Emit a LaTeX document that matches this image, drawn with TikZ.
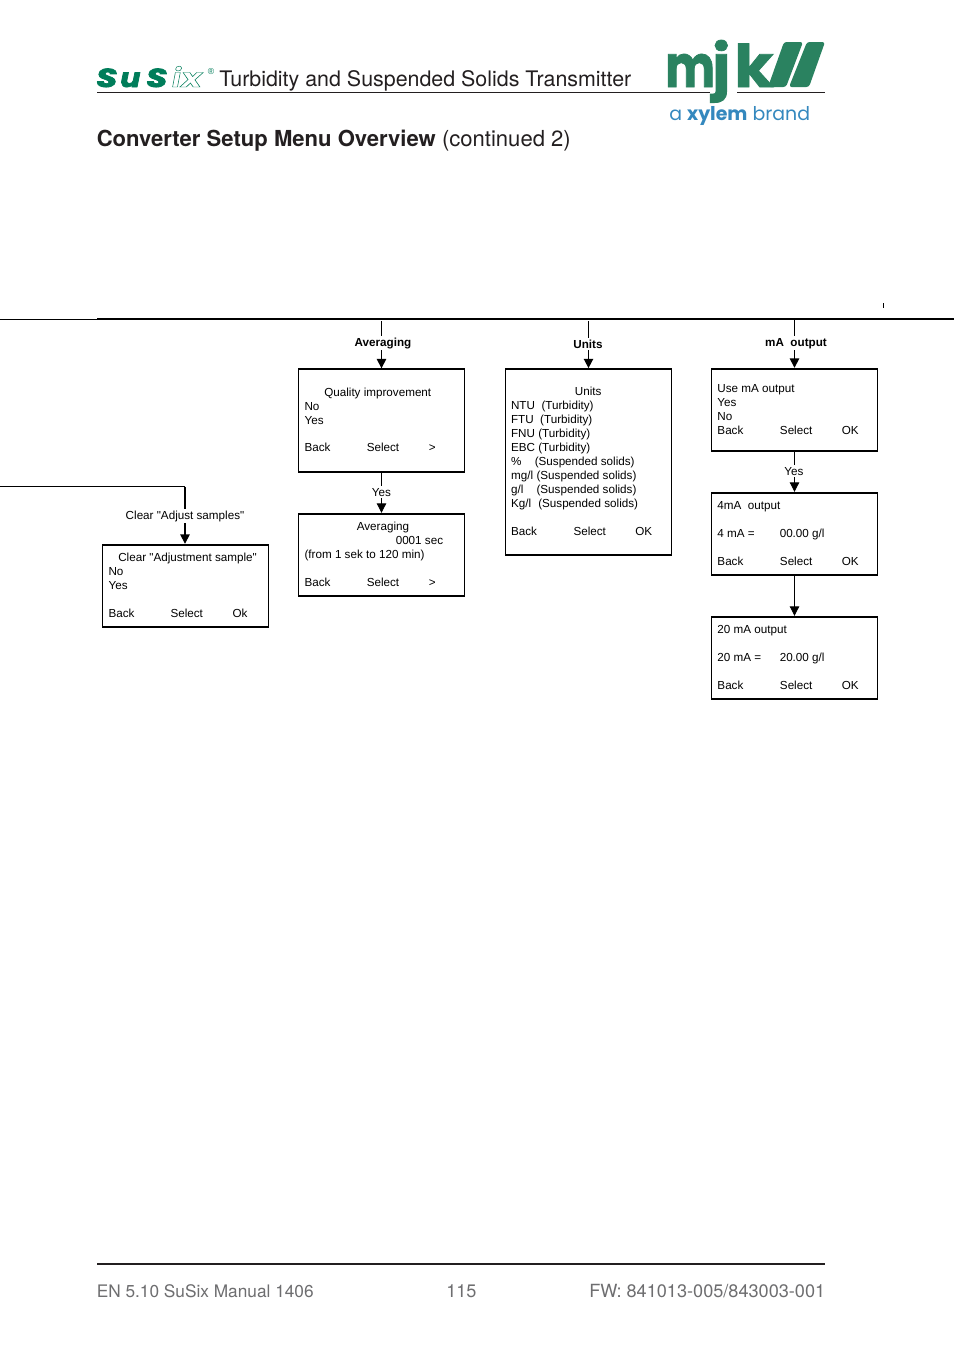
\documentclass[tikz,border=0pt]{standalone}
\usepackage{fontspec}
\setmainfont[Ligatures=TeXOff]{Liberation Sans}
\newfontfamily\headfont{TeX Gyre Heros}
\newfontfamily\brandfont{Poppins}
\usetikzlibrary{arrows.meta,positioning}
\definecolor{mjkgreen}{RGB}{42,130,96}
\definecolor{susixgreen}{RGB}{0,125,90}
\definecolor{xylemblue}{RGB}{52,136,190}
\definecolor{inkgray}{RGB}{35,31,32}
\definecolor{footgray}{RGB}{110,110,112}
\newcommand{\outlinetext}[1]{\special{pdf:code 1 Tr 0.35 w}#1\special{pdf:code 0 Tr}}
\newcommand{\heavytext}[2]{\special{pdf:code 2 Tr #1 w}#2\special{pdf:code 0 Tr}}
\tikzset{
    menubox/.style={draw,line width=1.3pt,minimum width=124.5pt,inner sep=0pt},
    menutext/.style={anchor=base west,inner sep=0pt,font=\fontsize{8.75}{10.5}\selectfont},
    flowlabel/.style={anchor=base,fill=white,inner xsep=1pt,inner ysep=1.5pt,font=\fontsize{8.75}{10.5}\selectfont},
    flowhead/.style={anchor=base,fill=white,inner xsep=1pt,inner ysep=1.5pt,font=\fontsize{8.75}{10.5}\selectfont\bfseries},
    flowline/.style={line width=1.1pt,-{Triangle[length=7pt,width=7pt]}},
    thinflow/.style={line width=0.7pt,-{Triangle[length=7pt,width=7pt]}},
    footer/.style={anchor=base west,inner sep=0pt,text=footgray,font=\headfont\fontsize{13.6}{16}\selectfont},
    logotext/.style={anchor=base west,inner sep=0pt,text=mjkgreen,font=\brandfont\fontsize{44}{44}\selectfont\bfseries},
    susixtext/.style={anchor=base west,inner sep=0pt,text=susixgreen,font=\brandfont\fontsize{19.5}{19.5}\selectfont\bfseries\itshape},
}
\begin{document}
\begin{tikzpicture}[x=0.75pt,y=-0.75pt]
    \useasboundingbox[fill=white] (0,0) rectangle (954,1354);

    % Header
    \node[susixtext] (susixa) at (96,87) {\scalebox{1.3}[1]{\heavytext{0.5}{S}}};
    \node[susixtext] (susixb) at (120,87) {\scalebox{1.15}[1]{\heavytext{0.5}{u}}};
    \node[susixtext] (susixc) at (146,87) {\scalebox{1.3}[1]{\heavytext{0.5}{S}}};
    \node[susixtext] (susixd) at (172,87) {\scalebox{1.1}[1]{\outlinetext{i}}};
    \node[susixtext] (susixe) at (181,87) {\scalebox{1.35}[1]{\outlinetext{x}}};
    \node[anchor=base west,inner sep=0pt,text=susixgreen,font=\fontsize{6.5}{6.5}\selectfont] (susixr) at (207.5,74.5) {®};
    \node[anchor=base west,inner sep=0pt,text=inkgray,font=\headfont\fontsize{16.05}{18}\selectfont] (headline) at (219,86) {Turbidity and Suspended Solids Transmitter};
    \node[anchor=base west,inner sep=0pt,text=inkgray,font=\headfont\fontsize{16.55}{20}\selectfont] (pagetitle) at (96.5,146) {\textbf{Converter Setup Menu Overview} (continued 2)};
    \draw[line width=1.1pt,inkgray] (97,92.5) -- (710,92.5);
    \draw[line width=1.1pt,inkgray] (737,92.5) -- (825,92.5);

    % Logo
    \node[logotext] (logom) at (665,87) {\scalebox{0.8}[1]{\heavytext{0.6}{m}}};
    \node[logotext] (logoj) at (712,87) {\scalebox{1.05}[1]{\heavytext{0.6}{j}}};
    \node[logotext] (logok) at (734,87) {\scalebox{1.08}[1]{\heavytext{0.6}{k}}};
    \fill[mjkgreen,rounded corners=2pt] (784,42) -- (803,42) -- (786,87) -- (768,87) -- cycle;
    \fill[mjkgreen,rounded corners=2pt] (807,42) -- (825,42) -- (809,87) -- (789,87) -- cycle;
    \node[anchor=base west,inner sep=0pt,text=xylemblue,font=\brandfont\fontsize{14.2}{18}\selectfont] (brandline) at (669,120) {a \textbf{xylem} brand};

    % Bus
    \coordinate (busleft) at (0,319);
    \coordinate (busstart) at (97,319);
    \coordinate (busright) at (954,319);
    \draw[line width=0.6pt] (busleft) -- (busstart);
    \draw[line width=1.2pt] (busstart) -- (busright);
    \draw[line width=0.4pt] (883,303) -- (883,308);

    % Boxes
    \node[menubox,minimum height=77pt] (qualitybox) at (381.5,420.5) {};
    \node[menubox,minimum height=62pt] (averagebox) at (381.5,555) {};
    \node[menubox,minimum height=62pt] (clearbox) at (185.5,586) {};
    \node[menubox,minimum height=139.5pt] (unitsbox) at (588.5,462) {};
    \node[menubox,minimum height=62pt] (usemabox) at (794.5,410) {};
    \node[menubox,minimum height=62pt] (fourmabox) at (794.5,534) {};
    \node[menubox,minimum height=62pt] (twentymabox) at (794.5,658) {};

    % Arrows
    \coordinate (averagetop) at (381.5,321);
    \coordinate (unitstop) at (588.5,321);
    \coordinate (matop) at (794.5,320);
    \coordinate (clearleft) at (0,486.5);
    \coordinate (clearbend) at (185,486.5);
    \draw[flowline] (averagetop) -- (qualitybox);
    \draw[flowline] (unitstop) -- (unitsbox);
    \draw[flowline] (matop) -- (usemabox);
    \draw[thinflow] (qualitybox) -- (averagebox);
    \draw[thinflow] (usemabox) -- (fourmabox);
    \draw[thinflow] (fourmabox) -- (twentymabox);
    \draw[line width=0.6pt] (clearleft) -- (clearbend);
    \draw[flowline] (clearbend) -- (clearbox.north -| clearbend);

    % Arrow labels
    \node[flowhead] (averagelabel) at (383,346) {Averaging};
    \node[flowhead] (unitslabel) at (588,348) {Units};
    \node[flowhead] (malabel) at (796,346) {mA\ \ output};
    \node[flowlabel] (yesaverage) at (381.5,496) {Yes};
    \node[flowlabel] (yesma) at (794,475) {Yes};
    \node[flowlabel] (clearlabel) at (185,519) {Clear "Adjust samples"};

    % Quality improvement
    \node[menutext] (qualitytitle) at (324,396) {Quality improvement};
    \node[menutext] (qualityno) at (304.3,410) {No};
    \node[menutext] (qualityyes) at (304.3,424) {Yes};
    \node[menutext] (qualityback) at (304.3,451) {Back};
    \node[menutext] (qualityselect) at (366.5,451) {Select};
    \node[menutext] (qualitynext) at (428.5,451) {>};

    % Averaging
    \node[menutext] (averagetitle) at (356.5,530) {Averaging};
    \node[menutext] (averagevalue) at (395.5,544) {0001 sec};
    \node[menutext] (averagerange) at (304.3,558) {(from 1 sek to 120 min)};
    \node[menutext] (averageback) at (304.3,586) {Back};
    \node[menutext] (averageselect) at (366.5,586) {Select};
    \node[menutext] (averagenext) at (428.5,586) {>};

    % Clear samples
    \node[menutext] (cleartitle) at (118,561) {Clear "Adjustment sample"};
    \node[menutext] (clearno) at (108.3,575) {No};
    \node[menutext] (clearyes) at (108.3,589) {Yes};
    \node[menutext] (clearback) at (108.3,617) {Back};
    \node[menutext] (clearselect) at (170.3,617) {Select};
    \node[menutext] (clearok) at (232.3,617) {Ok};

    % Units
    \node[menutext] (unitstitle) at (574.7,395) {Units};
    \node[menutext] (unitsntu) at (510.8,409) {NTU\ \ (Turbidity)};
    \node[menutext] (unitsftu) at (510.8,423) {FTU\ \ (Turbidity)};
    \node[menutext] (unitsfnu) at (510.8,437) {FNU (Turbidity)};
    \node[menutext] (unitsebc) at (510.8,451) {EBC (Turbidity)};
    \node[menutext] (unitspct) at (510.8,465) {\%};
    \node[menutext] (unitsmg) at (510.8,479) {mg/l};
    \node[menutext] (unitsg) at (510.8,493) {g/l};
    \node[menutext] (unitskg) at (510.8,507) {Kg/l};
    \node[menutext] (solidspct) at (534.5,465) {(Suspended solids)};
    \node[menutext] (solidsmg) at (536.3,479) {(Suspended solids)};
    \node[menutext] (solidsg) at (536.3,493) {(Suspended solids)};
    \node[menutext] (solidskg) at (538,507) {(Suspended solids)};
    \node[menutext] (unitsback) at (510.8,535) {Back};
    \node[menutext] (unitsselect) at (573.3,535) {Select};
    \node[menutext] (unitsok) at (635,535) {OK};

    % mA output
    \node[menutext] (usematitle) at (717.2,392) {Use mA output};
    \node[menutext] (usemayes) at (717.2,406) {Yes};
    \node[menutext] (usemano) at (717.2,420) {No};
    \node[menutext] (usemaback) at (717.2,434) {Back};
    \node[menutext] (usemaselect) at (779.7,434) {Select};
    \node[menutext] (usemaok) at (841.5,434) {OK};
    \node[menutext] (fourmatitle) at (717.2,509) {4mA\ \ output};
    \node[menutext] (fourmaname) at (717.2,537) {4 mA =};
    \node[menutext] (fourmavalue) at (779.5,537) {00.00 g/l};
    \node[menutext] (fourmaback) at (717.2,565) {Back};
    \node[menutext] (fourmaselect) at (779.7,565) {Select};
    \node[menutext] (fourmaok) at (841.5,565) {OK};
    \node[menutext] (twentymatitle) at (717.2,633) {20 mA output};
    \node[menutext] (twentymaname) at (717.2,661) {20 mA =};
    \node[menutext] (twentymavalue) at (779.5,661) {20.00 g/l};
    \node[menutext] (twentymaback) at (717.2,689) {Back};
    \node[menutext] (twentymaselect) at (779.7,689) {Select};
    \node[menutext] (twentymaok) at (841.5,689) {OK};

    % Footer
    \draw[line width=1.1pt,inkgray] (97,1264) -- (825,1264);
    \node[footer,font=\headfont\fontsize{12.95}{16}\selectfont] (footleft) at (96.5,1297) {EN 5.10 SuSix Manual 1406};
    \node[footer] (footpage) at (446,1297) {115};
    \node[footer] (footright) at (589,1297) {FW: 841013-005/843003-001};
\end{tikzpicture}
\end{document}
